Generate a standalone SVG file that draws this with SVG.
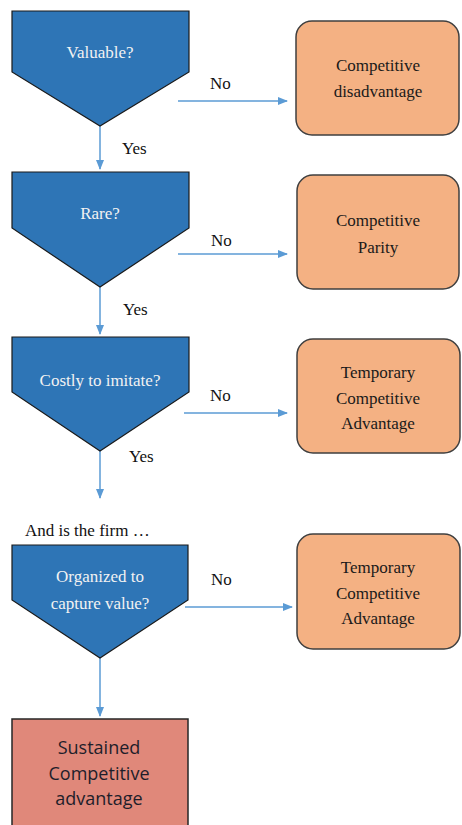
<svg xmlns="http://www.w3.org/2000/svg" width="462" height="825" viewBox="0 0 462 825">
<defs>
<marker id="ah" markerWidth="10" markerHeight="8" refX="9" refY="4" orient="auto" markerUnits="userSpaceOnUse">
<path d="M0,0 L10,4 L0,8 z" fill="#5B9BD5"/>
</marker>
<style>
.dec{fill:#2E75B6;stroke:#1a1a1a;stroke-width:1.2}
.out{fill:#F4B183;stroke:#3f3f3f;stroke-width:1.5}
.fin{fill:#E0887A;stroke:#262626;stroke-width:1.5}
.conn{stroke:#5B9BD5;stroke-width:1.5;fill:none;marker-end:url(#ah)}
.wt{font-family:'Liberation Serif','Times New Roman','DejaVu Serif',serif;font-size:17px;fill:#F2F2F2;text-anchor:middle}
.bt{font-family:'Liberation Serif','Times New Roman','DejaVu Serif',serif;font-size:17px;fill:#1a1a1a;text-anchor:middle}
.lb{font-family:'Liberation Serif','Times New Roman','DejaVu Serif',serif;font-size:17px;fill:#111}
.st{font-family:'Open Sans','Liberation Sans',sans-serif;font-size:18px;fill:#1e1e2a;text-anchor:middle}
</style>
</defs>
<g id="connectors">
<line class="conn" x1="178" y1="101" x2="287" y2="101"/>
<line class="conn" x1="178" y1="254" x2="287" y2="254"/>
<line class="conn" x1="184" y1="413" x2="287" y2="413"/>
<line class="conn" x1="185" y1="607" x2="292" y2="607"/>
<line class="conn" x1="100" y1="126" x2="100" y2="169"/>
<line class="conn" x1="100" y1="287" x2="100" y2="334"/>
<line class="conn" x1="100" y1="451" x2="100" y2="498"/>
<line class="conn" x1="100" y1="658" x2="100" y2="716"/>
<text class="lb" x="210" y="89">No</text>
<text class="lb" x="211" y="246">No</text>
<text class="lb" x="210" y="401">No</text>
<text class="lb" x="211" y="585">No</text>
<text class="lb" x="122" y="154">Yes</text>
<text class="lb" x="123" y="315">Yes</text>
<text class="lb" x="129" y="462">Yes</text>
</g>
<g id="q1">
<polygon class="dec" points="12,11 189,11 189,72 100,126 12,72"/>
<text class="wt" x="100" y="58">Valuable?</text>
</g>
<g id="q2">
<polygon class="dec" points="12,172 189,172 189,228 100,287 12,228"/>
<text class="wt" x="100" y="219">Rare?</text>
</g>
<g id="q3">
<polygon class="dec" points="12,337 189,337 189,392 100,451 12,392"/>
<text class="wt" x="100" y="386">Costly to imitate?</text>
</g>
<g id="lead">
<text class="lb" x="25" y="536">And is the firm  …</text>
</g>
<g id="q4">
<polygon class="dec" points="12,545 188,545 188,600 100,658 12,600"/>
<text class="wt" x="100" y="582">Organized to</text>
<text class="wt" x="100" y="609">capture value?</text>
</g>
<g id="r1">
<rect class="out" x="296" y="21" width="163" height="114" rx="16"/>
<text class="bt" x="378" y="71">Competitive</text>
<text class="bt" x="378" y="97">disadvantage</text>
</g>
<g id="r2">
<rect class="out" x="297" y="175" width="162" height="114" rx="16"/>
<text class="bt" x="378" y="226">Competitive</text>
<text class="bt" x="378" y="253">Parity</text>
</g>
<g id="r3">
<rect class="out" x="297" y="339" width="163" height="114" rx="16"/>
<text class="bt" x="378" y="378">Temporary</text>
<text class="bt" x="378" y="404">Competitive</text>
<text class="bt" x="378" y="429">Advantage</text>
</g>
<g id="r4">
<rect class="out" x="297" y="534" width="163" height="115" rx="16"/>
<text class="bt" x="378" y="573">Temporary</text>
<text class="bt" x="378" y="599">Competitive</text>
<text class="bt" x="378" y="624">Advantage</text>
</g>
<g id="final">
<rect class="fin" x="12" y="719" width="176" height="110"/>
<text class="st" x="99" y="754">Sustained</text>
<text class="st" x="99" y="780">Competitive</text>
<text class="st" x="99" y="805">advantage</text>
</g>
</svg>
